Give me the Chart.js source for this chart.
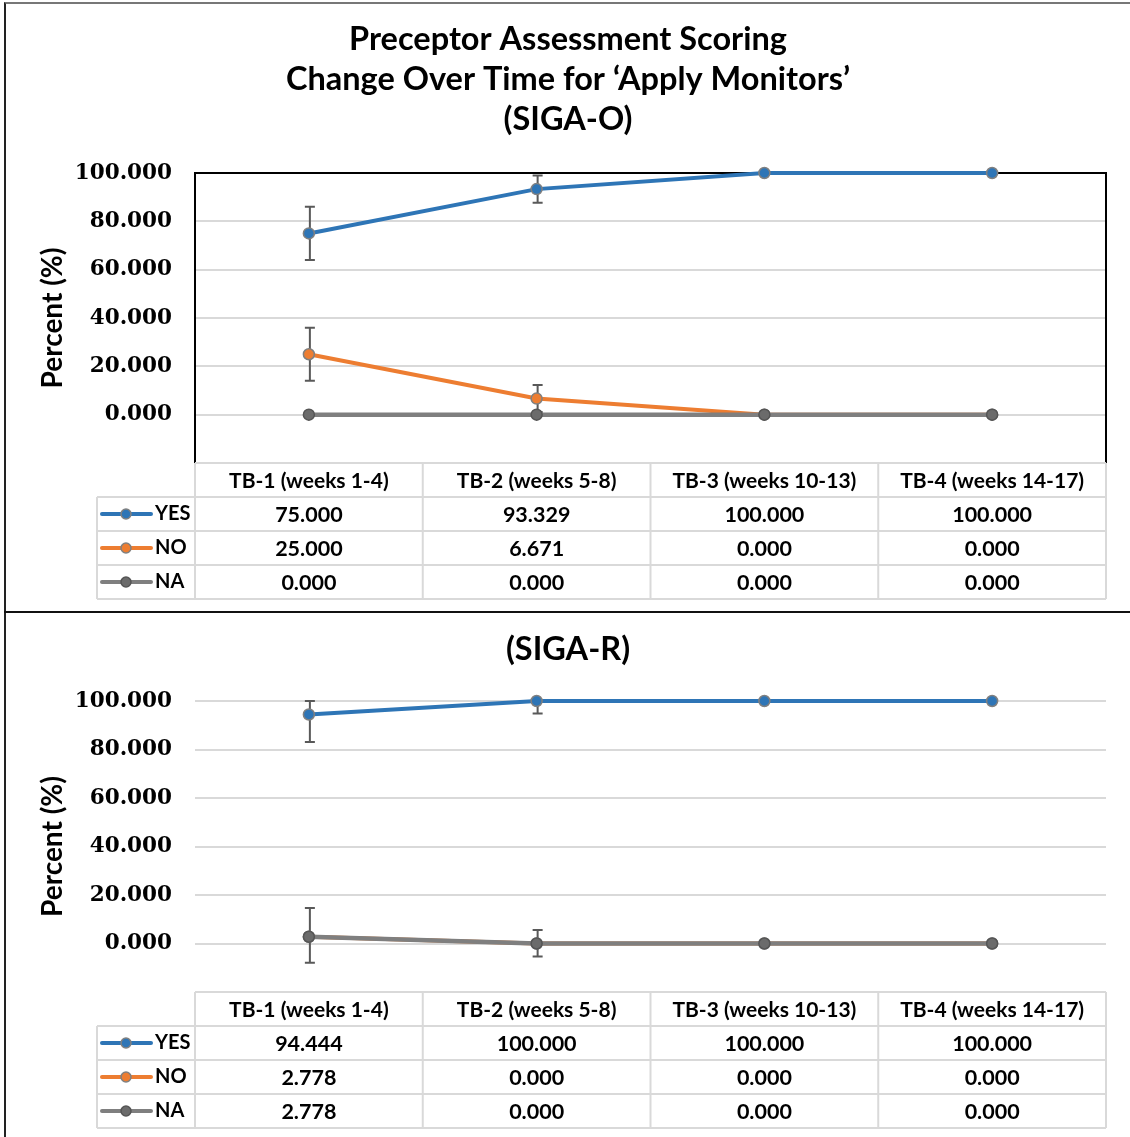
<!DOCTYPE html>
<html>
<head>
<meta charset="utf-8">
<script src="https://cdn.jsdelivr.net/npm/chart.js@4"></script>
<style>
  body { margin: 0; background: #fff; }
  #frame { position: absolute; left: 4px; top: 2px; width: 1126px; height: 1135px; border-top: 2px solid #777; border-left: 2px solid #222; }
  #divider { position: absolute; left: 4px; top: 611px; width: 1126px; border-top: 2px solid #111; }
  .panel { position: absolute; left: 6px; }
  #p1 { top: 4px; }
  #p2 { top: 613px; }
</style>
</head>
<body>
<div id="frame"></div>
<div id="divider"></div>
<canvas id="p1" class="panel" width="1124" height="607"></canvas>
<canvas id="p2" class="panel" width="1124" height="524"></canvas>
<script>
// categories and series
const categories = ['TB-1 (weeks 1-4)', 'TB-2 (weeks 5-8)', 'TB-3 (weeks 10-13)', 'TB-4 (weeks 14-17)'];
const seriesNames = ['YES', 'NO', 'NA'];
const seriesColors = ['#2e75b6', '#ed7d31', '#7f7f7f'];
const yTickStep = 20;
const yMin = -20;
const yMax = 100;

// SIGA-O values
const sigaOYes = [75.000, 93.329, 100.000, 100.000];
const sigaONo = [25.000, 6.671, 0.000, 0.000];
const sigaONa = [0.000, 0.000, 0.000, 0.000];
// error bars
const sigaOYesErrUp = [11, 5.6, 0, 0];
const sigaOYesErrDown = [11, 5.6, 0, 0];
const sigaONoErrUp = [11, 5.6, 0, 0];
const sigaONoErrDown = [11, 5.6, 0, 0];

// SIGA-R values
const sigaRYes = [94.444, 100.000, 100.000, 100.000];
const sigaRNo = [2.778, 0.000, 0.000, 0.000];
const sigaRNa = [2.778, 0.000, 0.000, 0.000];
const sigaRYesErrUp = [5.6, 0, 0, 0];
const sigaRYesErrDown = [11.4, 5.2, 0, 0];
const sigaRNoErrUp = [11.9, 5.6, 0, 0];
const sigaRNoErrDown = [10.7, 5.4, 0, 0];

const ROW_H = 34;

// error bars under the lines
const errorBars = {
  id: 'errorBars',
  beforeDatasetsDraw(chart) {
    const { ctx, scales: { x, y } } = chart;
    ctx.save();
    ctx.strokeStyle = '#595959';
    ctx.lineWidth = 2;
    chart.data.datasets.forEach(ds => {
      if (!ds.errUp) return;
      ds.data.forEach((v, i) => {
        const up = ds.errUp[i], down = ds.errDown[i];
        if (!up && !down) return;
        const px = x.getPixelForValue(i) + 1;
        const y1 = y.getPixelForValue(v + up);
        const y2 = y.getPixelForValue(v - down);
        ctx.beginPath();
        ctx.moveTo(px, y1); ctx.lineTo(px, y2);
        if (up) { ctx.moveTo(px - 5, y1); ctx.lineTo(px + 5, y1); }
        if (down) { ctx.moveTo(px - 5, y2); ctx.lineTo(px + 5, y2); }
        ctx.stroke();
      });
    });
    ctx.restore();
  }
};

// black plot box (only on the first chart)
const plotBox = {
  id: 'plotBox',
  beforeDatasetsDraw(chart, args, opts) {
    if (!opts.show) return;
    const { ctx, chartArea: a } = chart;
    ctx.save();
    ctx.strokeStyle = '#000';
    ctx.lineWidth = 2;
    ctx.beginPath();
    ctx.moveTo(a.left, a.bottom);
    ctx.lineTo(a.left, a.top);
    ctx.lineTo(a.right, a.top);
    ctx.lineTo(a.right, a.bottom);
    ctx.stroke();
    ctx.restore();
  }
};

// data table with legend keys under the plot
const dataTable = {
  id: 'dataTable',
  afterDraw(chart) {
    const { ctx, chartArea: a, scales: { x } } = chart;
    const n = categories.length;
    const w = (x.right - x.left) / n;
    const top = a.bottom;
    const legLeft = a.left - 98;
    const bottom = top + ROW_H * 4;
    ctx.save();
    ctx.strokeStyle = '#d9d9d9';
    ctx.lineWidth = 2;
    ctx.beginPath();
    ctx.moveTo(x.left, top); ctx.lineTo(x.right, top);
    for (let r = 1; r <= 4; r++) {
      ctx.moveTo(legLeft, top + r * ROW_H); ctx.lineTo(x.right, top + r * ROW_H);
    }
    ctx.moveTo(legLeft, top + ROW_H); ctx.lineTo(legLeft, bottom);
    for (let c = 0; c <= n; c++) {
      ctx.moveTo(x.left + c * w, top); ctx.lineTo(x.left + c * w, bottom);
    }
    ctx.stroke();

    ctx.fillStyle = '#000';
    ctx.textAlign = 'center';
    ctx.textBaseline = 'middle';
    ctx.font = 'bold 21px Lato';
    categories.forEach((c, i) => {
      ctx.fillText(c, x.getPixelForValue(i), top + ROW_H / 2 + 1);
    });
    const valueFont = 'bold 21.5px Lato';
    ctx.font = valueFont;
    chart.data.datasets.forEach(ds => {
      const r = ds.row + 1;
      const cy = top + r * ROW_H + ROW_H / 2 + 1;
      ds.data.forEach((v, i) => {
        ctx.fillText(v.toFixed(3), x.getPixelForValue(i), cy);
      });
      // legend key
      ctx.save();
      ctx.strokeStyle = ds.borderColor;
      ctx.lineWidth = 4;
      ctx.lineCap = 'round';
      ctx.beginPath();
      ctx.moveTo(legLeft + 5, cy - 1); ctx.lineTo(legLeft + 54, cy - 1);
      ctx.stroke();
      ctx.beginPath();
      ctx.arc(legLeft + 29, cy - 1, 5, 0, Math.PI * 2);
      ctx.fillStyle = ds.pointBackgroundColor;
      ctx.fill();
      ctx.lineWidth = 1.5;
      ctx.strokeStyle = ds.pointBorderColor;
      ctx.stroke();
      ctx.restore();
      ctx.textAlign = 'left';
      ctx.font = 'bold 20px Lato';
      ctx.fillText(ds.label, legLeft + 58, cy - 1);
      ctx.textAlign = 'center';
      ctx.font = valueFont;
    });
    ctx.restore();
  }
};

function makeDataset(idx, values, up, down) {
  return {
    label: seriesNames[idx],
    data: values,
    row: idx,
    order: 2 - idx,
    errUp: up,
    errDown: down,
    clip: false,
    borderColor: seriesColors[idx],
    borderWidth: idx === 2 ? 4.5 : 4,
    pointRadius: 5.5,
    pointBackgroundColor: idx === 2 ? '#6b6b6b' : seriesColors[idx],
    pointBorderColor: idx === 2 ? '#555555' : '#808080',
    pointBorderWidth: 1.5,
    tension: 0
  };
}

function makeChart(id, titleLines, titlePad, datasets, boxed, padBottom) {
  return new Chart(document.getElementById(id), {
    type: 'line',
    data: { labels: categories, datasets: datasets },
    options: {
      responsive: false,
      animation: false,
      // equal side padding keeps the title centred on the page
      layout: { padding: { left: 24, right: 24, top: 0, bottom: padBottom } },
      plugins: {
        legend: { display: false },
        tooltip: { enabled: false },
        plotBox: { show: boxed },
        title: {
          display: true,
          text: titleLines,
          color: '#000',
          font: { family: 'Lato', size: 32.5, weight: 'bold', lineHeight: 40 / 32.5 },
          padding: titlePad
        }
      },
      scales: {
        x: { display: false, offset: true },
        y: {
          min: yMin,
          max: yMax,
          afterFit: s => { s.width = 165; },
          border: { display: false },
          grid: { color: '#d9d9d9', lineWidth: 2, drawTicks: false },
          ticks: {
            stepSize: yTickStep,
            padding: 23,
            color: '#000',
            font: { family: 'DejaVu Serif', size: 21.5, weight: 'bold' },
            callback: v => v < 0 ? '' : v.toFixed(3)
          },
          title: {
            display: true,
            text: 'Percent (%)',
            color: '#000',
            font: { family: 'Lato', size: 28, weight: 'bold' },
            padding: { top: 6, bottom: 0 }
          }
        }
      }
    },
    plugins: [plotBox, errorBars, dataTable]
  });
}

makeChart('p1',
  ['Preceptor Assessment Scoring', 'Change Over Time for \u2018Apply Monitors\u2019', '(SIGA-O)'],
  { top: 16, bottom: 33 },
  [
    makeDataset(0, sigaOYes, sigaOYesErrUp, sigaOYesErrDown),
    makeDataset(1, sigaONo, sigaONoErrUp, sigaONoErrDown),
    makeDataset(2, sigaONa, null, null)
  ],
  true, 148);

makeChart('p2',
  ['(SIGA-R)'],
  { top: 17, bottom: 31 },
  [
    makeDataset(0, sigaRYes, sigaRYesErrUp, sigaRYesErrDown),
    makeDataset(1, sigaRNo, sigaRNoErrUp, sigaRNoErrDown),
    makeDataset(2, sigaRNa, null, null)
  ],
  false, 145);
</script>
</body>
</html>
